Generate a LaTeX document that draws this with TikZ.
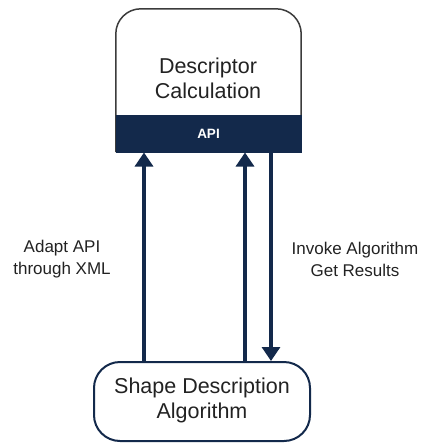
\documentclass[tikz,border=0pt]{standalone}
\usepackage{fontspec}
\setmainfont{Liberation Sans}
\usetikzlibrary{arrows.meta,calc}
\definecolor{navy}{RGB}{19,41,75}
\definecolor{edgegray}{RGB}{60,60,60}
\definecolor{txt}{RGB}{34,34,34}
\begin{document}
\begin{tikzpicture}[x=1pt,y=-1pt,
  boxtext/.style={align=center,text=txt,font=\fontsize{21.5}{25}\selectfont,inner sep=0pt},
  labeltext/.style={align=center,text=txt,font=\fontsize{17}{22}\selectfont,inner sep=0pt},
  link/.style={draw=navy,line width=3.2pt,-{Triangle[width=18pt,length=14pt]}}]
\useasboundingbox (0,0) rectangle (427,444);

% upper component with its API bar
\node[minimum width=185pt,minimum height=143pt,inner sep=0pt] (desc) at (208.5,80.5) {};
\draw[edgegray,line width=1.5pt,rounded corners=25pt]
  (desc.south west) -- (desc.north west) -- (desc.north east) -- (desc.south east);
\node[boxtext] (desctext) at (208,78) {Descriptor\\Calculation};
\node[fill=navy,draw=navy,line width=1pt,minimum width=185pt,minimum height=37pt,inner sep=0pt,
      text=white,font=\fontsize{13.5}{16}\selectfont\bfseries] (api) at (208.5,133.5) {API};

% lower component
\node[draw=navy,line width=2pt,rounded corners=26pt,minimum width=216pt,minimum height=79pt,
      inner sep=0pt] (algo) at (202,401.5) {};
\node[boxtext] (algotext) at (202,400) {Shape Description\\Algorithm};

% connectors
\draw[link] (144,0 |- algo.north) -- (144,0 |- api.south);
\draw[link] (245,0 |- algo.north) -- (245,0 |- api.south);
\draw[link] (271,0 |- api.south) -- (271,0 |- algo.north);

% connector labels
\node[labeltext] (adapt) at (62,259) {Adapt API\\through XML};
\node[labeltext] (invoke) at (355,259) {Invoke Algorithm\\Get Results};
\end{tikzpicture}
\end{document}
